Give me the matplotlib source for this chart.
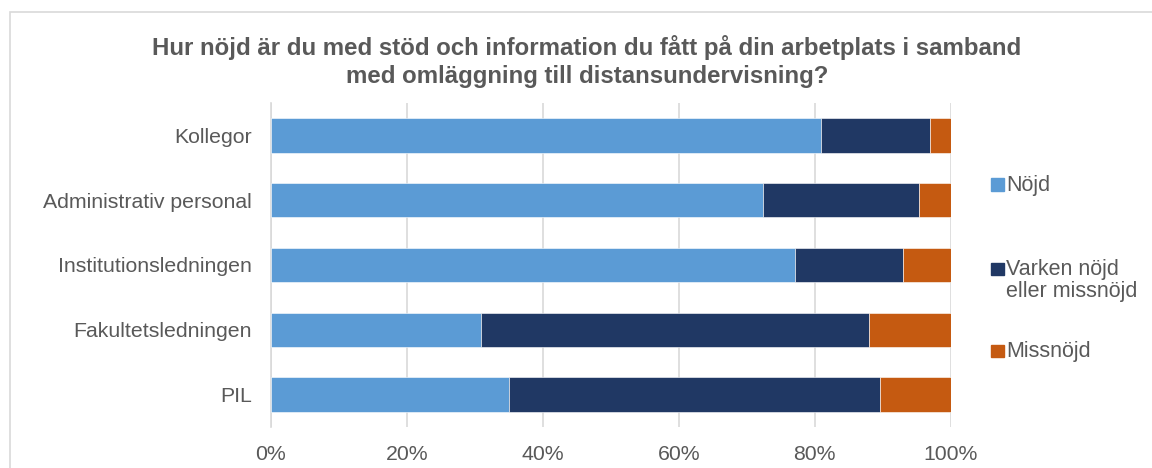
import matplotlib.pyplot as plt
from matplotlib.patches import Rectangle
import numpy as np

plt.rcParams['font.family'] = ['Liberation Sans', 'DejaVu Sans']

# data (andelar i procent)
kategorier = ['Kollegor', 'Administrativ personal', 'Institutionsledningen',
              'Fakultetsledningen', 'PIL']
nojd = [80.9, 72.4, 77.1, 30.9, 35.0]
varken = [16.0, 22.9, 15.9, 57.1, 54.6]
missnojd = [3.1, 4.7, 7.0, 12.0, 10.4]
serier = ['Nöjd', 'Varken nöjd\neller missnöjd', 'Missnöjd']
farger = ['#5B9BD5', '#203864', '#C55A11']
xticks = [0, 20, 40, 60, 80, 100]

textfarg = '#595959'

fig = plt.figure(figsize=(11.52, 4.68), dpi=100)
ax = fig.add_axes([270.7 / 1152, 1 - 427 / 468, 680 / 1152, 324 / 468])

y = np.arange(len(kategorier))
left = np.zeros(len(kategorier))
for vals, farg, namn in zip([nojd, varken, missnojd], farger, serier):
    ax.barh(y, vals, left=left, height=0.53, color=farg, label=namn,
            edgecolor='white', linewidth=0.4, zorder=3)
    left = left + np.array(vals)

ax.set_ylim(len(kategorier) - 0.5, -0.5)
ax.set_xlim(0, 100)
ax.set_yticks(y)
ax.set_yticklabels(kategorier, fontsize=15.3, color=textfarg)
ax.set_xticks(xticks)
ax.set_xticklabels([f'{t}%' for t in xticks], fontsize=15.3, color=textfarg)
ax.tick_params(axis='y', length=0, pad=13.5)
ax.tick_params(axis='x', length=0, pad=13)
ax.grid(axis='x', color='#D9D9D9', linewidth=1.2, zorder=0)
for s in ['top', 'right', 'bottom']:
    ax.spines[s].set_visible(False)
ax.spines['left'].set_color('#D9D9D9')
ax.spines['left'].set_linewidth(1.2)

fig.text(587 / 1152, 1 - 61.5 / 468,
         'Hur nöjd är du med stöd och information du fått på din arbetplats i samband\n'
         'med omläggning till distansundervisning?',
         ha='center', va='center', fontsize=17.3, fontweight='bold',
         color=textfarg, linespacing=1.27)

# legend
leg_y = [184.5, 269, 351]
for namn, farg, yy in zip(serier, farger, leg_y):
    fig.patches.append(Rectangle((991 / 1152, 1 - (yy + 6.3) / 468), 12.6 / 1152, 12.6 / 468,
                                 transform=fig.transFigure, color=farg))
    fig.text(1006 / 1152, 1 - (yy - 10) / 468, namn, ha='left', va='top',
             fontsize=15.5, color=textfarg, linespacing=1.05)

# ram
fig.patches.append(Rectangle((10 / 1152, -0.05), 1.2, 1 - 12 / 468 + 0.05,
                             transform=fig.transFigure, fill=False,
                             edgecolor='#D9D9D9', linewidth=1.2))

fig.savefig('out.png', dpi=100)
